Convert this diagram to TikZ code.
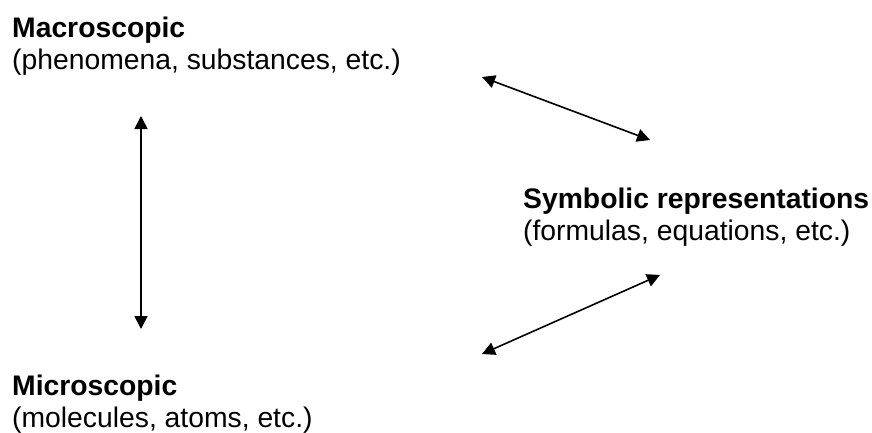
\documentclass[tikz,border=0pt]{standalone}
\usepackage{fontspec}
\setmainfont{Liberation Sans}
\usetikzlibrary{arrows.meta}
\begin{document}
\begin{tikzpicture}[x=1pt,y=-1pt,
  lbl/.style={anchor=base west, inner sep=0pt, font=\fontsize{28.3}{34}\selectfont},
  ttl/.style={anchor=base west, inner sep=0pt, font=\fontsize{28.3}{34}\selectfont\bfseries},
  link/.style={{Triangle[length=13pt,width=13pt]}-{Triangle[length=13pt,width=13pt]}, line width=1.6pt}]
\useasboundingbox (0,0) rectangle (872,432);
\node[ttl] (macT) at (12,37) {Macroscopic};
\node[lbl] (macS) at (12,69.5) {(phenomena, substances, etc.)};
\node[ttl] (symT) at (523,208) {Symbolic representations};
\node[lbl] (symS) at (523,240) {(formulas, equations, etc.)};
\node[ttl] (micT) at (12,395) {Microscopic};
\node[lbl] (micS) at (12,427) {(molecules, atoms, etc.)};
\coordinate (v1) at (141,116);
\coordinate (v2) at (141,329);
\coordinate (u1) at (482,77);
\coordinate (u2) at (650,140);
\coordinate (l1) at (482,354);
\coordinate (l2) at (660,275);
\draw[link] (v1) -- (v2);
\draw[link] (u1) -- (u2);
\draw[link] (l1) -- (l2);
\end{tikzpicture}
\end{document}
